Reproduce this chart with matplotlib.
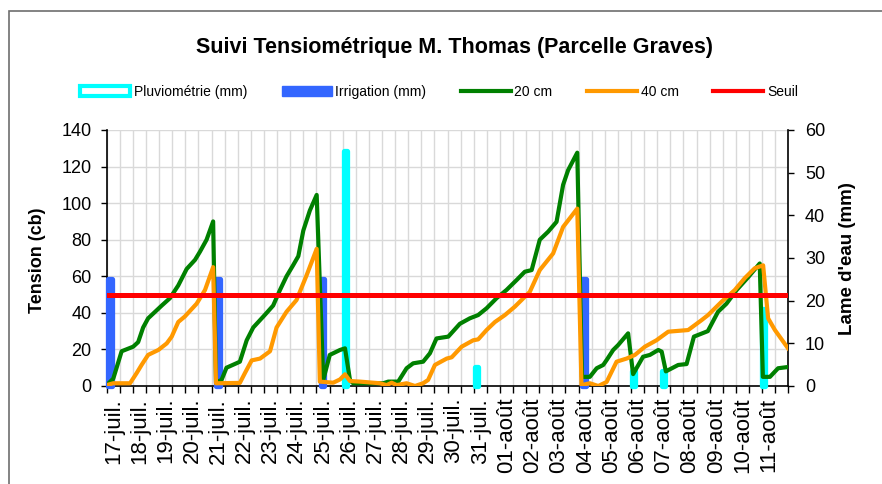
import numpy as np
import matplotlib
matplotlib.use("Agg")
import matplotlib.pyplot as plt
from matplotlib.patches import Patch, Rectangle
from matplotlib.lines import Line2D

plt.rcParams['font.family'] = ['Liberation Sans', 'DejaVu Sans']

# ---------------- data ----------------
title = "Suivi Tensiométrique M. Thomas (Parcelle Graves)"
x_labels = [f"{d}-juil." for d in range(17, 32)] + [f"{d:02d}-août" for d in range(1, 12)]

# time in days since 17-juil 00h
t20 = [-0.25, 0.0, 0.32, 0.76, 0.95, 1.14, 1.33, 1.85, 2.16, 2.48, 2.80, 3.12, 3.31, 3.56, 3.81,
       3.92, 4.13, 4.32, 4.71, 4.83, 5.09, 5.34, 5.79, 6.10, 6.36, 6.61, 6.86, 7.06, 7.25, 7.50, 7.76,
       8.01, 8.26, 8.65, 8.84, 9.03, 9.15, 10.30, 10.49, 10.87, 11.19, 11.44, 11.82, 12.08, 12.33,
       12.78, 13.22, 13.60, 13.92, 14.24, 14.62, 15.00, 15.39, 15.70, 15.96, 16.27, 16.59, 16.91,
       17.16, 17.35, 17.70, 17.88, 18.18, 18.44, 18.69, 18.82, 19.07, 19.26, 19.64, 19.83, 20.21,
       20.47, 20.79, 20.92, 21.08, 21.55, 21.87, 22.15, 22.68, 23.07, 23.39, 23.78, 24.22, 24.66,
       24.78, 25.05, 25.36, 25.74]
tension_20 = [0.5, 4, 19, 21.5, 24, 32, 37, 44, 48, 55, 64, 69, 73.5, 80, 90,
              2, 3.3, 10, 12.5, 13.3, 25, 32, 39, 44, 52.5, 60, 66, 71, 85, 96, 104.5,
              3.3, 17, 19.7, 20.6, 3.3, 1.5, 1.5, 2.4, 2.4, 9.7, 12.4, 13.3, 17.9, 26,
              27, 34, 37, 38.8, 42.5, 48, 52.5, 58, 62.5, 63.4, 80, 84.4, 89.8,
              110, 118, 127.6, 5, 5, 9.7, 11.5, 14.2, 19.7, 22.4, 28.8, 6.5, 16,
              17, 19.7, 18.8, 8, 11.5, 12, 27, 30, 40.6, 45, 52.5, 59.5, 67,
              5, 5, 9.7, 10.4]

t40 = [-0.25, 0.0, 0.64, 0.89, 1.08, 1.33, 1.72, 2.04, 2.23, 2.48, 2.73, 3.18, 3.50, 3.81,
       3.92, 4.83, 5.02, 5.28, 5.60, 5.98, 6.23, 6.61, 6.99, 7.38, 7.76,
       7.88, 8.39, 8.65, 8.84, 9.03, 9.41, 10.17, 10.43, 10.62, 10.81, 11.19, 11.51, 11.82,
       12.01, 12.27, 12.72, 12.91, 13.29, 13.73, 13.92, 14.24, 14.56, 14.94, 15.32, 15.70,
       15.89, 16.27, 16.78, 17.16, 17.70, 17.86, 18.18, 18.50, 18.82, 19.20, 19.58, 19.90,
       20.28, 20.72, 21.17, 21.93, 22.44, 22.69, 23.20, 23.71, 24.09, 24.47, 24.79, 24.98,
       25.24, 25.74]
tension_40 = [0.5, 1.5, 1.5, 7, 11.5, 17, 19.7, 23.3, 27, 35, 38, 45, 52.5, 65,
              1.5, 1.7, 7, 14, 15, 19, 32, 40.6, 47, 60.7, 75,
              2.4, 1.8, 3.6, 6.4, 2.7, 2.4, 1.5, 0.5, 1.8, 0.5, 1.5, 0, 1.5,
              3.3, 11.5, 15, 15.7, 21.5, 25, 25.5, 30.6, 35, 38.8, 43.4, 48.8,
              51.5, 63.4, 72.5, 87, 97, 0.5, 1.5, 0, 2.2, 13.3, 15, 17,
              21.5, 25, 29.7, 30.6, 36, 38.8, 46, 52.5, 59, 64.4, 66, 37,
              30.6, 20.6]

pluie_t = [8.87, 13.86, 19.85, 21.0, 24.81]
pluie_mm = [55, 4.5, 3.4, 3.4, 18]
irrig_t = [-0.13, 4.0, 7.98, 17.95]
irrig_mm = [25, 25, 25, 25]
seuil = 50

# ---------------- style ----------------
W, H = 882, 484
c_cyan = '#00ffff'
c_blue = '#3366ff'
c_green = '#008000'
c_orange = '#ff9900'
c_red = '#ff0000'
grid_c = '#d9d9d9'

fig = plt.figure(figsize=(W / 100, H / 100), dpi=100)
fig.patch.set_facecolor('white')

# outer chart frame
fig.add_artist(Rectangle((9 / W, -0.05), 1.2, (H - 11) / H + 0.05, transform=fig.transFigure,
                         fill=False, edgecolor='#6e6e6e', linewidth=1.2))

ax = fig.add_axes([106.7 / W, 98 / H, (788.3 - 106.7) / W, 256 / H])
ax2 = ax.twinx()
ax3 = ax.twinx()

# grid + axes on host
ax.set_xlim(-0.25, 25.75)
ax.set_ylim(0, 140)
ax.set_yticks(np.arange(0, 141, 20))
ax.set_xticks(np.arange(len(x_labels)))
ax.set_xticklabels(x_labels, rotation=90, fontsize=16)
ax.set_xticks(np.arange(-0.25, 25.76, 0.5), minor=True)
ax.tick_params(axis='x', which='major', length=0, pad=8.5)
ax.tick_params(axis='x', which='minor', length=5, width=1, direction='out', color='black')
ax.tick_params(axis='y', which='major', length=4, width=1, direction='out', labelsize=13, pad=7)
ax.grid(which='minor', axis='x', color=grid_c, linewidth=1.0)
ax.grid(which='major', axis='y', color=grid_c, linewidth=1.0)
ax.grid(which='major', axis='x', visible=False)
ax.set_axisbelow(True)
for s in ['top', 'right']:
    ax.spines[s].set_visible(False)
for s in ['left', 'bottom']:
    ax.spines[s].set_linewidth(1.2)
    ax.spines[s].set_color('black')

# bars on right axis
ax2.set_ylim(0, 60)
ax2.set_yticks(np.arange(0, 61, 10))
ax2.tick_params(axis='y', length=4, width=1, direction='out', labelsize=13, pad=8)
for s in ['top', 'left', 'bottom']:
    ax2.spines[s].set_visible(False)
ax2.spines['right'].set_linewidth(1.2)
ax2.bar(pluie_t, pluie_mm, width=0.13, facecolor='white', edgecolor=c_cyan, linewidth=3.8,
        joinstyle='round', clip_on=False, zorder=2)
ax2.bar(irrig_t, irrig_mm, width=0.13, facecolor=c_blue, edgecolor=c_blue, linewidth=3.8,
        joinstyle='round', clip_on=False, zorder=3)

# lines on top
ax3.set_ylim(0, 140)
ax3.set_yticks([])
for s in ax3.spines.values():
    s.set_visible(False)
ax3.plot(t20, tension_20, color=c_green, linewidth=3.0, solid_joinstyle='round', zorder=3)
ax3.plot(t40, tension_40, color=c_orange, linewidth=3.0, solid_joinstyle='round', zorder=4)
ax3.axhline(seuil, color=c_red, linewidth=3.6, zorder=5)

# titles / labels
fig.text(454 / W, (H - 47) / H, title, ha='center', va='center', fontsize=15.5, fontweight='bold')
fig.text(37 / W, (H - 260) / H, "Tension (cb)", rotation=90, ha='center', va='center',
         fontsize=13, fontweight='bold')
fig.text(848 / W, (H - 259) / H, "Lame d'eau (mm)", rotation=90, ha='center', va='center',
         fontsize=13.5, fontweight='bold')

handles = [
    Patch(facecolor='white', edgecolor=c_cyan, linewidth=3),
    Patch(facecolor=c_blue, edgecolor=c_blue),
    Line2D([], [], color=c_green, linewidth=3),
    Line2D([], [], color=c_orange, linewidth=3),
    Line2D([], [], color=c_red, linewidth=3),
]
labels = ["Pluviométrie (mm)", "Irrigation (mm)", "20 cm", "40 cm", "Seuil"]
fig.legend(handles, labels, loc='center', bbox_to_anchor=(439 / W, (H - 92) / H), ncol=5,
           frameon=False, fontsize=10, handlelength=3.6, handleheight=0.75,
           handletextpad=0.25, columnspacing=2.5, borderpad=0)

fig.savefig("out.png", dpi=100, facecolor='white')
